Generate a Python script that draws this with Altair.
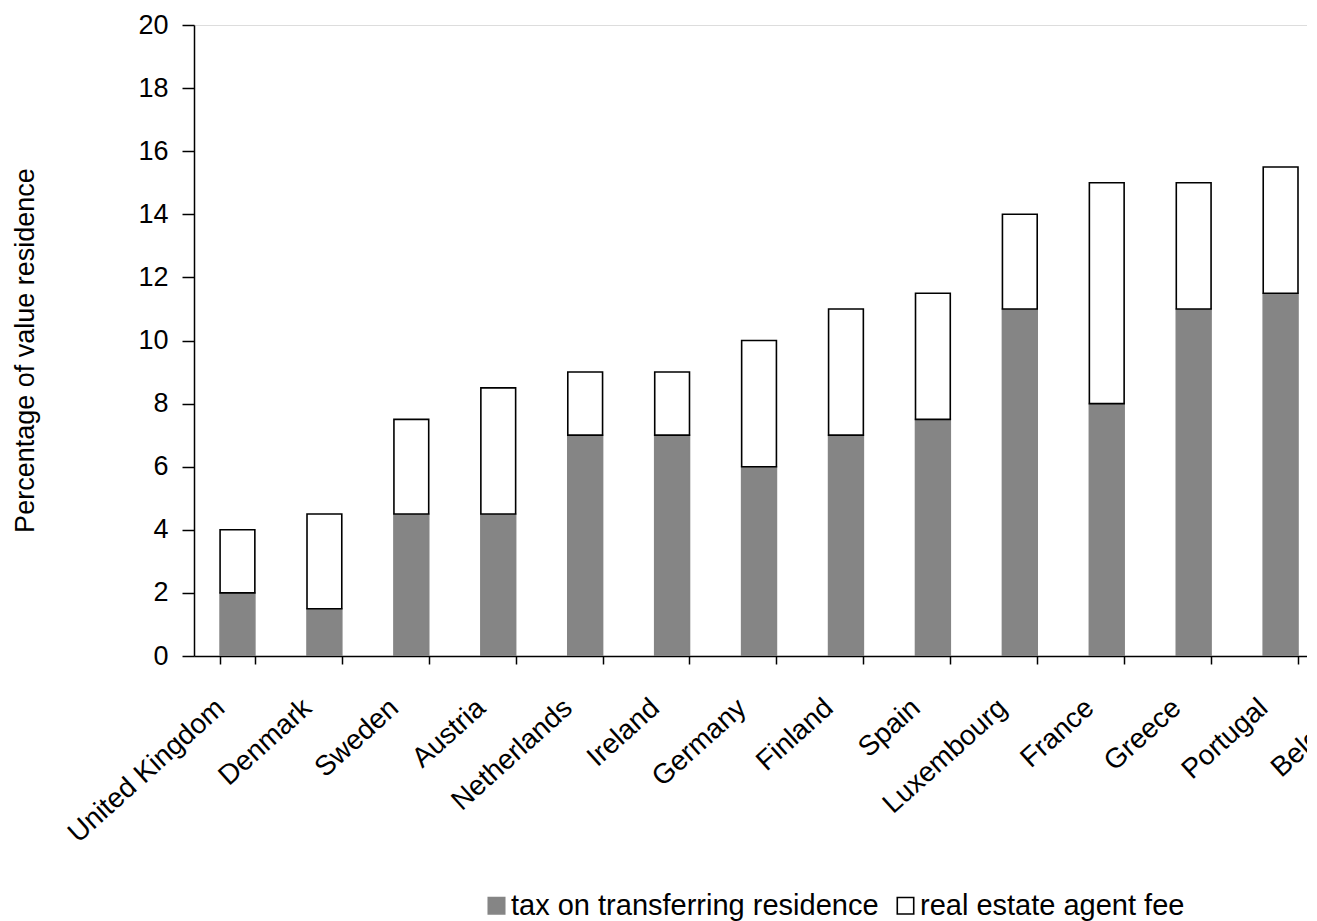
import altair as alt
import pandas as pd

countries = ["United Kingdom", "Denmark", "Sweden", "Austria", "Netherlands", "Ireland",
             "Germany", "Finland", "Spain", "Luxembourg", "France", "Greece", "Portugal", "Belgium"]
# values read for the visible bars (Belgium's bar lies outside the picture)
shown = countries[:13]
tax = [2, 1.5, 4.5, 4.5, 7, 7, 6, 7, 7.5, 11, 8, 11, 11.5]
fee = [2, 3, 3, 4, 2, 2, 4, 4, 4, 3, 7, 4, 4]
series = ["tax on transferring residence", "real estate agent fee"]

rows = []
for c, t, f in zip(shown, tax, fee):
    rows.append({"country": c, "series": series[0], "value": t, "ord": 0})
    rows.append({"country": c, "series": series[1], "value": f, "ord": 1})
df = pd.DataFrame(rows)

FONT = "Liberation Sans"

legend = alt.Legend(title=None, orient="none", legendX=288, legendY=866,
                    direction="horizontal", symbolType="square", symbolSize=270,
                    labelFontSize=29, labelFont=FONT, labelColor="black", labelLimit=600,
                    labelOffset=0, columnPadding=12, symbolStrokeWidth=1.6, padding=0)

chart = alt.Chart(df).mark_bar(strokeWidth=1.6, clip=True).encode(
    x=alt.X("country:N", sort=countries,
            scale=alt.Scale(domain=countries, range=[0, 1217], paddingInner=0.6, paddingOuter=0.3),
            axis=alt.Axis(title=None, labelAngle=-42, labelAlign="right", labelBaseline="middle",
                          labelFontSize=28, labelPadding=40, labelOffset=-17, tickBand="extent",
                          labelLimit=600, tickSize=8, domainColor="black", tickColor="black",
                          domainWidth=1.5, tickWidth=1.5, labelColor="black", labelFont=FONT)),
    y=alt.Y("value:Q", stack="zero",
            scale=alt.Scale(domain=[0, 20], nice=False),
            axis=alt.Axis(title="Percentage of value residence", values=list(range(0, 21, 2)),
                          tickSize=12, labelPadding=14, labelFontSize=27, labelColor="black",
                          labelFont=FONT, domainColor="black", tickColor="black", domainWidth=1.5,
                          tickWidth=1.5, grid=False, titleFontSize=27, titleFontWeight="normal",
                          titleFont=FONT, titleColor="black", titleAngle=-90, titleX=-169, titleY=325,
                          titleAlign="center", titleBaseline="middle")),
    order=alt.Order("ord:Q"),
    fill=alt.Fill("series:N", sort=series,
                  scale=alt.Scale(domain=series, range=["#858585", "white"]),
                  legend=legend),
    stroke=alt.Stroke("series:N", sort=series,
                      scale=alt.Scale(domain=series, range=["#858585", "black"]),
                      legend=legend),
).properties(
    width=1113, height=631,
    autosize=alt.AutoSizeParams(type="none"),
    padding={"left": 194, "top": 25, "right": 0, "bottom": 265},
).configure_view(stroke=None).configure(background="white")

chart.save("out.html", embed_options={"renderer": "svg", "actions": False})
